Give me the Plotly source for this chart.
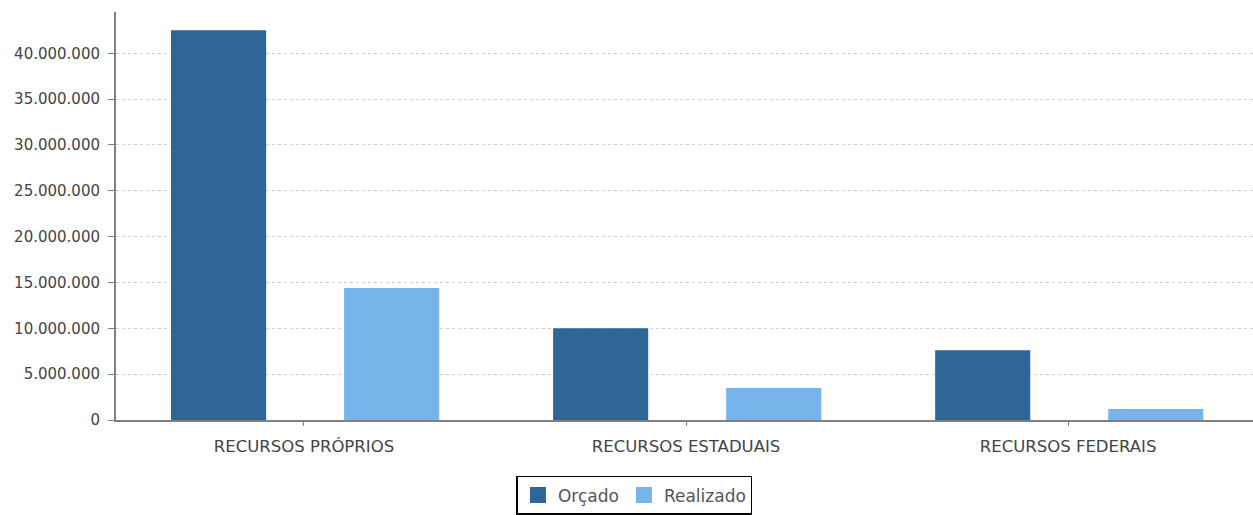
import plotly.graph_objects as go

# Budget vs. executed amounts by funding source
categorias = ["RECURSOS PRÓPRIOS", "RECURSOS ESTADUAIS", "RECURSOS FEDERAIS"]
orcado = [42500000, 10000000, 7600000]
realizado = [14400000, 3500000, 1200000]
y_ticks = [0, 5000000, 10000000, 15000000, 20000000, 25000000, 30000000, 35000000, 40000000]

COR_ORCADO = "#2D6697"
COR_REALIZADO = "#76B4EA"
FONTE = "DejaVu Sans"

fig = go.Figure()
fig.add_trace(go.Bar(
    name="Orçado", x=categorias, y=orcado,
    marker=dict(color=COR_ORCADO, line=dict(width=0)),
    width=0.249, offset=-0.348, showlegend=False,
))
fig.add_trace(go.Bar(
    name="Realizado", x=categorias, y=realizado,
    marker=dict(color=COR_REALIZADO, line=dict(width=0)),
    width=0.249, offset=0.105, showlegend=False,
))

# legend entries with larger square swatches
for nome, cor in [("Orçado", COR_ORCADO), ("Realizado", COR_REALIZADO)]:
    fig.add_trace(go.Scatter(
        name=nome, x=[None], y=[None], mode="markers",
        marker=dict(symbol="square", size=20, color=cor, line=dict(width=0)),
        showlegend=True,
    ))

fig.update_layout(
    width=1253, height=515,
    margin=dict(l=116, r=0, t=12, b=95),
    paper_bgcolor="white", plot_bgcolor="white",
    barmode="overlay",
    separators=",.",
    font=dict(family=FONTE, size=15, color="#333333"),
    showlegend=True,
    legend=dict(
        orientation="h", x=0.456, xanchor="center", y=-0.137, yanchor="top",
        bordercolor="black", borderwidth=1.5, bgcolor="white",
        font=dict(family=FONTE, size=17, color="#555555"),
        itemwidth=30, tracegroupgap=0, itemsizing="trace",
    ),
    xaxis=dict(
        type="category", range=[-0.492, 2.484],
        showline=True, linecolor="#808080", linewidth=2,
        ticks="outside", ticklen=4, tickcolor="#808080",
        showgrid=False, zeroline=False, ticklabelstandoff=6,
        tickfont=dict(family=FONTE, size=16.5, color="#444444"),
    ),
    yaxis=dict(
        range=[0, 44500000],
        tickvals=y_ticks, tickformat=",d",
        showline=True, linecolor="#808080", linewidth=2,
        ticks="outside", ticklen=6, tickcolor="#808080",
        showgrid=True, gridcolor="#d0d0d0", griddash="dot", gridwidth=1,
        zeroline=False, ticklabelstandoff=5,
        tickfont=dict(family=FONTE, size=15, color="#444444"),
    ),
)

fig.write_html("out.html")
